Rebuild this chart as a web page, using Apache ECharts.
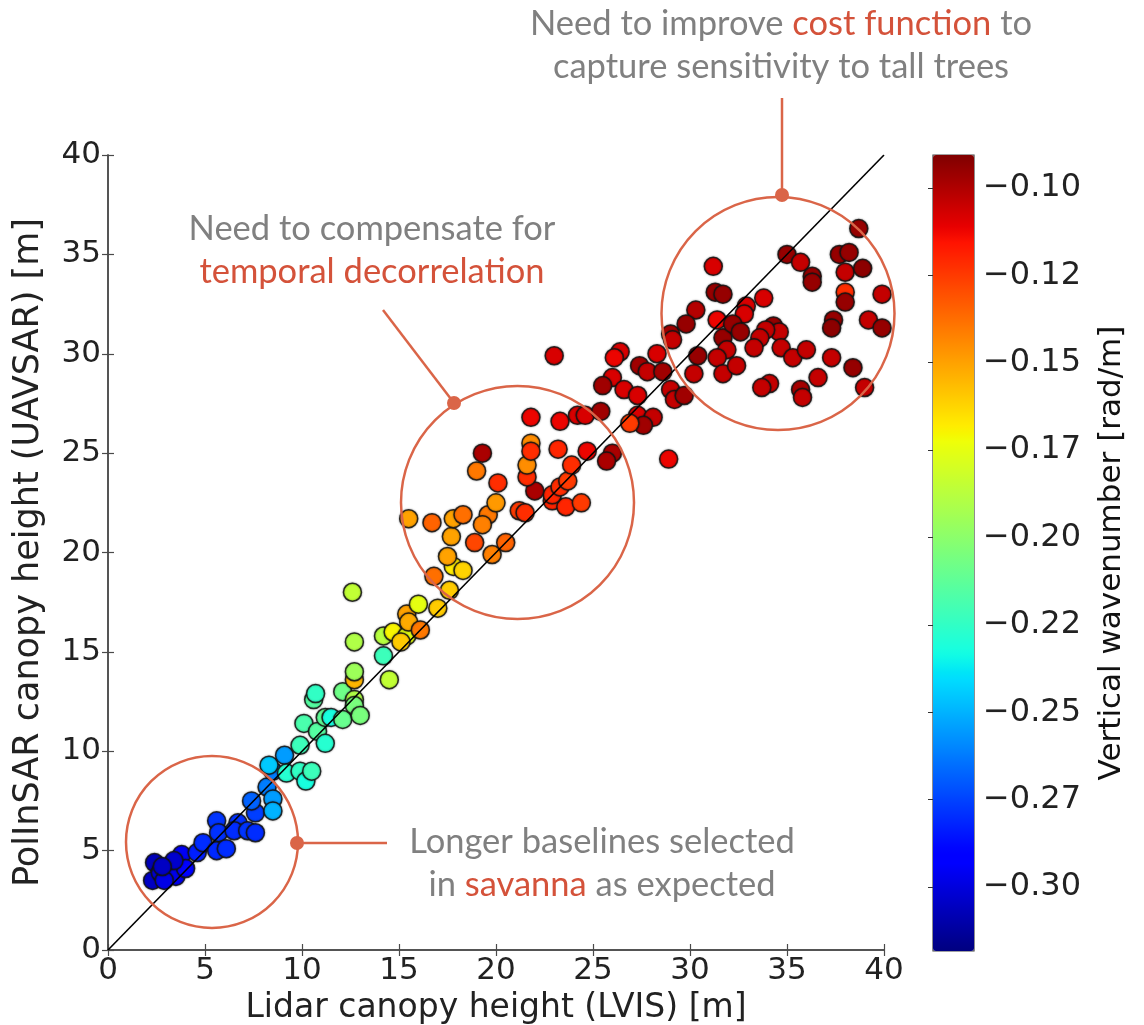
<!DOCTYPE html>
<html>
<head>
<meta charset="utf-8">
<script src="https://cdn.jsdelivr.net/npm/echarts@6/dist/echarts.min.js"></script>
<style>html,body{margin:0;padding:0;background:#fff;}#chart{width:1144px;height:1025px;}</style>
</head>
<body>
<div id="chart"></div>
<script>
// ---- data ----
const lidarHeight = [2.4,2.3,2.7,3.3,3.8,3.5,4.0,2.9,3.4,2.8,4.6,4.9,5.6,5.7,5.6,6.1,6.7,6.5,7.2,7.6,7.6,7.4,8.2,8.5,8.5,8.5,8.3,9.1,9.2,9.9,10.2,10.5,9.9,10.1,10.8,11.2,10.6,10.7,11.2,11.5,12.1,12.1,12.7,12.7,13.0,12.7,12.7,12.7,12.6,14.2,14.5,14.2,14.7,15.4,15.1,15.4,15.5,16.0,16.1,17.0,17.6,16.8,17.8,18.3,17.5,19.8,18.9,20.5,17.7,15.5,16.7,17.8,18.3,19.6,19.3,20.0,21.2,21.5,22.9,23.6,24.4,22.9,23.3,23.7,22.0,20.1,21.6,21.6,23.9,19.0,19.3,21.8,21.8,23.2,24.7,26.0,25.7,21.8,23.3,24.2,24.6,25.4,28.9,23.0,26.4,26.1,28.3,29.0,29.1,27.4,27.8,28.6,26.0,25.5,26.6,27.3,29.0,29.2,29.7,27.3,28.1,27.6,26.9,30.4,30.2,31.7,31.9,31.4,31.7,32.4,31.2,31.3,31.7,33.8,32.9,32.8,30.3,29.8,31.4,32.2,32.6,34.3,34.6,33.9,33.6,33.3,34.7,35.3,36.0,37.4,37.3,39.2,39.9,37.3,38.4,36.6,34.1,33.7,35.7,35.8,39.0,35.0,35.7,37.7,38.2,38.0,38.9,36.3,36.3,38.0,38.0,39.9,38.7];
const polinsarHeight = [4.4,3.5,3.9,4.3,4.8,3.7,4.1,3.5,4.5,4.2,4.9,5.4,6.5,5.9,5.0,5.1,6.4,6.0,6.0,5.9,6.9,7.5,8.2,7.6,7.0,9.0,9.3,9.8,8.9,9.0,8.5,9.0,10.3,11.4,11.0,10.4,12.6,12.9,11.7,11.7,11.6,13.0,12.6,12.3,11.8,13.6,14.0,15.5,18.0,14.8,13.6,15.8,16.0,15.8,15.5,16.9,16.5,17.4,16.1,17.2,18.1,18.8,19.3,19.1,19.8,19.9,20.5,20.5,20.8,21.7,21.5,21.7,21.9,21.9,21.4,22.5,22.1,22.0,22.6,22.3,22.5,22.9,23.3,23.6,23.1,23.5,23.8,24.4,24.4,24.1,25.0,25.5,25.1,25.2,25.1,25.0,24.6,26.8,26.6,26.9,26.9,27.1,24.7,29.9,30.1,29.8,30.0,31.0,30.7,29.4,29.1,29.1,28.8,28.4,28.2,27.9,28.2,27.7,27.9,26.9,26.8,26.4,26.5,29.9,29.0,30.8,30.2,29.8,29.0,29.4,34.4,33.1,33.0,32.8,32.4,32.0,32.2,31.5,31.7,31.5,31.1,31.4,31.1,31.2,30.8,30.3,30.3,29.8,30.2,31.7,31.3,31.7,31.3,29.8,29.3,28.8,28.5,28.3,28.2,27.8,28.3,35.0,34.6,35.0,35.1,34.1,34.3,33.9,33.6,33.1,32.6,33.0,36.3];
const kz = [-0.307,-0.305,-0.300,-0.300,-0.295,-0.297,-0.290,-0.298,-0.303,-0.305,-0.283,-0.280,-0.278,-0.279,-0.281,-0.280,-0.279,-0.280,-0.278,-0.280,-0.276,-0.268,-0.262,-0.255,-0.250,-0.262,-0.245,-0.255,-0.228,-0.225,-0.232,-0.222,-0.222,-0.218,-0.215,-0.228,-0.215,-0.225,-0.212,-0.232,-0.210,-0.208,-0.190,-0.205,-0.205,-0.155,-0.195,-0.190,-0.185,-0.222,-0.185,-0.188,-0.170,-0.175,-0.160,-0.150,-0.152,-0.175,-0.140,-0.160,-0.160,-0.138,-0.168,-0.162,-0.150,-0.142,-0.128,-0.135,-0.150,-0.150,-0.135,-0.150,-0.138,-0.140,-0.142,-0.148,-0.125,-0.122,-0.120,-0.120,-0.125,-0.120,-0.122,-0.125,-0.099,-0.122,-0.122,-0.145,-0.122,-0.140,-0.099,-0.145,-0.122,-0.120,-0.112,-0.099,-0.099,-0.112,-0.112,-0.108,-0.108,-0.097,-0.112,-0.108,-0.108,-0.112,-0.108,-0.097,-0.104,-0.097,-0.104,-0.097,-0.108,-0.097,-0.108,-0.108,-0.104,-0.104,-0.097,-0.108,-0.104,-0.097,-0.125,-0.095,-0.104,-0.095,-0.104,-0.104,-0.104,-0.104,-0.108,-0.095,-0.095,-0.108,-0.108,-0.108,-0.101,-0.095,-0.112,-0.095,-0.095,-0.095,-0.104,-0.104,-0.104,-0.104,-0.104,-0.104,-0.104,-0.095,-0.093,-0.104,-0.095,-0.104,-0.095,-0.104,-0.104,-0.104,-0.098,-0.104,-0.104,-0.095,-0.104,-0.095,-0.095,-0.104,-0.093,-0.095,-0.095,-0.122,-0.095,-0.104,-0.095];
const oneToOne = [[0, 0], [40, 40]];
const axisTicks = [0, 5, 10, 15, 20, 25, 30, 35, 40];
const kzMin = -0.3183, kzMax = -0.0906;
const cbTickValues = [-0.100, -0.125, -0.150, -0.175, -0.200, -0.225, -0.250, -0.275, -0.300];
const cbTickLabels = ['\u22120.10', '\u22120.12', '\u22120.15', '\u22120.17', '\u22120.20', '\u22120.22', '\u22120.25', '\u22120.27', '\u22120.30'];

// ---- jet colormap (matplotlib segment data) ----
function interp(t, xs, ys) {
  for (let i = 1; i < xs.length; i++) {
    if (t <= xs[i]) { const f = (t - xs[i-1]) / (xs[i] - xs[i-1]); return ys[i-1] + f * (ys[i] - ys[i-1]); }
  }
  return ys[ys.length - 1];
}
function jet(t) {
  const r = interp(t, [0, 0.35, 0.66, 0.89, 1], [0, 0, 1, 1, 0.5]);
  const g = interp(t, [0, 0.125, 0.375, 0.64, 0.91, 1], [0, 0, 1, 1, 0, 0]);
  const b = interp(t, [0, 0.11, 0.34, 0.65, 1], [0.5, 1, 1, 0, 0]);
  return 'rgb(' + Math.round(r*255) + ',' + Math.round(g*255) + ',' + Math.round(b*255) + ')';
}
const jetColors = [];
for (let i = 0; i <= 100; i++) jetColors.push(jet(i / 100));

const points = lidarHeight.map((x, i) => [x, polinsarHeight[i], kz[i]]);

const TICK_FONT = 'DejaVu Sans';
const ANN_FONT = 'Lato';
const ANN_SIZE = 34.5;
const GRAY = '#808080', RED = '#d4523a', CIRC = '#da6548';
const axisLineStyle = { color: '#4a4a4a', width: 1.5 };
const tickStyle = { show: true, inside: true, length: 6, lineStyle: { color: '#4a4a4a', width: 1.2 }, customValues: axisTicks };

const chart = echarts.init(document.getElementById('chart'), null, { renderer: 'canvas' });
const option = {
  animation: false,
  backgroundColor: '#ffffff',
  grid: [
    { left: 108, top: 155, width: 776, height: 795, show: false, containLabel: false, outerBoundsMode: 'none' },
    { left: 933, top: 155, width: 41, height: 796, show: true, borderColor: '#444', borderWidth: 1.2, backgroundColor: 'transparent', containLabel: false, outerBoundsMode: 'none' }
  ],
  xAxis: [
    { gridIndex: 0, type: 'value', min: 0, max: 40, interval: 5, position: 'bottom',
      name: 'Lidar canopy height (LVIS) [m]', nameLocation: 'middle', nameGap: 42,
      nameTextStyle: { fontFamily: TICK_FONT, fontSize: 33, color: '#222' },
      axisLine: { show: true, lineStyle: axisLineStyle }, axisTick: tickStyle,
      axisLabel: { fontFamily: TICK_FONT, fontSize: 31, color: '#222', margin: 5 }, splitLine: { show: false } },
    { gridIndex: 0, type: 'value', min: 0, max: 40, interval: 5, position: 'top',
      axisLine: { show: true, lineStyle: axisLineStyle }, axisTick: tickStyle,
      axisLabel: { show: false }, splitLine: { show: false } },
    { gridIndex: 1, type: 'value', min: 0, max: 1, show: false }
  ],
  yAxis: [
    { gridIndex: 0, type: 'value', min: 0, max: 40, interval: 5, position: 'left',
      name: 'PolInSAR canopy height (UAVSAR) [m]', nameLocation: 'middle', nameGap: 62,
      nameTextStyle: { fontFamily: TICK_FONT, fontSize: 35, color: '#222' },
      axisLine: { show: true, lineStyle: axisLineStyle }, axisTick: tickStyle,
      axisLabel: { fontFamily: TICK_FONT, fontSize: 31, color: '#222', margin: 7 }, splitLine: { show: false } },
    { gridIndex: 0, type: 'value', min: 0, max: 40, interval: 5, position: 'right',
      axisLine: { show: true, lineStyle: axisLineStyle }, axisTick: tickStyle,
      axisLabel: { show: false }, splitLine: { show: false } },
    { gridIndex: 1, type: 'value', min: kzMin, max: kzMax, position: 'right',
      name: 'Vertical wavenumber [rad/m]', nameLocation: 'middle', nameGap: 122, nameRotate: 90,
      nameTextStyle: { fontFamily: TICK_FONT, fontSize: 31, color: '#111' },
      axisLine: { show: false },
      axisTick: { show: true, inside: true, length: 5, lineStyle: { color: '#333', width: 1 }, customValues: cbTickValues },
      axisLabel: { fontFamily: TICK_FONT, fontSize: 32, color: '#222', margin: 9, customValues: cbTickValues,
        formatter: (v) => { const i = cbTickValues.findIndex(c => Math.abs(c - v) < 1e-6); return i >= 0 ? cbTickLabels[i] : ''; } },
      splitLine: { show: false } }
  ],
  visualMap: {
    type: 'continuous', seriesIndex: 0, dimension: 2, min: kzMin, max: kzMax,
    inRange: { color: jetColors }, calculable: false, realtime: false, hoverLink: false,
    orient: 'vertical', left: 933, top: 155, itemWidth: 41, itemHeight: 796, padding: 0, text: null, z: 1
  },
  series: [
    { type: 'scatter', xAxisIndex: 0, yAxisIndex: 0, data: points, symbolSize: 18, z: 2,
      itemStyle: { borderColor: 'rgba(20,20,20,0.85)', borderWidth: 1.5, opacity: 1, shadowBlur: 2, shadowColor: 'rgba(0,0,0,0.45)' } },
    { type: 'line', xAxisIndex: 0, yAxisIndex: 0, data: oneToOne, symbol: 'none', z: 3,
      lineStyle: { color: '#000', width: 1.6 } }
  ],
  graphic: [
    { type: 'circle', z: 100, shape: { cx: 212, cy: 842, r: 86 }, style: { fill: 'none', stroke: CIRC, lineWidth: 2.5 } },
    { type: 'circle', z: 100, shape: { cx: 517.5, cy: 502.5, r: 116.5 }, style: { fill: 'none', stroke: CIRC, lineWidth: 2.5 } },
    { type: 'circle', z: 100, shape: { cx: 778, cy: 313.5, r: 116.5 }, style: { fill: 'none', stroke: CIRC, lineWidth: 2.5 } },
    { type: 'line', z: 100, shape: { x1: 297, y1: 843, x2: 387, y2: 843 }, style: { stroke: CIRC, lineWidth: 2.5 } },
    { type: 'line', z: 100, shape: { x1: 383, y1: 310, x2: 454, y2: 403 }, style: { stroke: CIRC, lineWidth: 2.5 } },
    { type: 'line', z: 100, shape: { x1: 782, y1: 98, x2: 782, y2: 196 }, style: { stroke: CIRC, lineWidth: 2.5 } },
    { type: 'circle', z: 101, shape: { cx: 297, cy: 843, r: 7 }, style: { fill: CIRC } },
    { type: 'circle', z: 101, shape: { cx: 454, cy: 403, r: 7 }, style: { fill: CIRC } },
    { type: 'circle', z: 101, shape: { cx: 782, cy: 195, r: 7 }, style: { fill: CIRC } },
    { type: 'text', z: 102, x: 781, y: 24, style: { text: '{g|Need to improve }{r|cost function}{g| to}', align: 'center', verticalAlign: 'middle',
        rich: { g: { fill: GRAY, fontFamily: ANN_FONT, fontSize: ANN_SIZE }, r: { fill: RED, fontFamily: ANN_FONT, fontSize: ANN_SIZE } } } },
    { type: 'text', z: 102, x: 781, y: 67, style: { text: 'capture sensitivity to tall trees', align: 'center', verticalAlign: 'middle', fill: GRAY, fontFamily: ANN_FONT, fontSize: ANN_SIZE } },
    { type: 'text', z: 102, x: 372, y: 229, style: { text: 'Need to compensate for', align: 'center', verticalAlign: 'middle', fill: GRAY, fontFamily: ANN_FONT, fontSize: ANN_SIZE } },
    { type: 'text', z: 102, x: 372, y: 272, style: { text: 'temporal decorrelation', align: 'center', verticalAlign: 'middle', fill: RED, fontFamily: ANN_FONT, fontSize: ANN_SIZE } },
    { type: 'text', z: 102, x: 602, y: 842, style: { text: 'Longer baselines selected', align: 'center', verticalAlign: 'middle', fill: GRAY, fontFamily: ANN_FONT, fontSize: ANN_SIZE } },
    { type: 'text', z: 102, x: 602, y: 885, style: { text: '{g|in }{r|savanna}{g| as expected}', align: 'center', verticalAlign: 'middle',
        rich: { g: { fill: GRAY, fontFamily: ANN_FONT, fontSize: ANN_SIZE }, r: { fill: RED, fontFamily: ANN_FONT, fontSize: ANN_SIZE } } } }
  ]
};
chart.setOption(option);
</script>
</body>
</html>
